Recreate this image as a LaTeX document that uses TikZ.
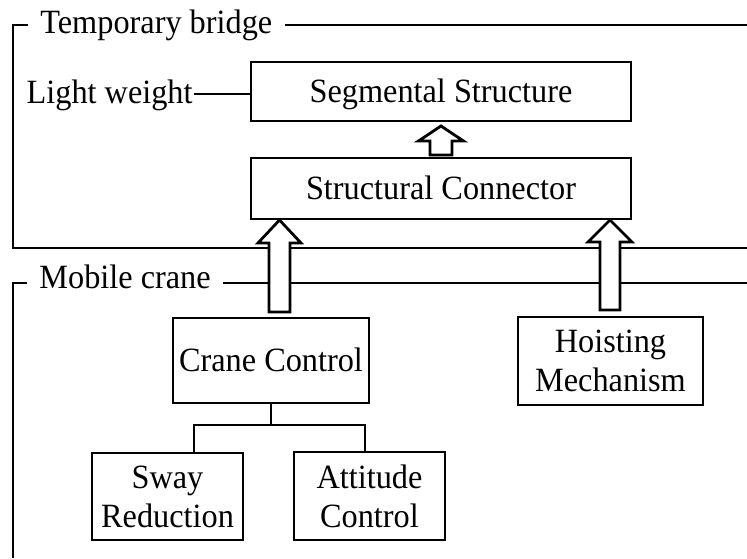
\documentclass[tikz,border=0pt]{standalone}
\usepackage{fontspec}
\setmainfont{Liberation Serif}[FakeStretch=0.95]
\begin{document}
\begin{tikzpicture}[x=1pt,y=-1pt,
  line width=2.8pt,
  every node/.style={font=\fontsize{34}{39}\selectfont},
  box/.style={draw, inner sep=0pt, align=center},
  one/.style={text height=22pt, text depth=0pt},
  lab/.style={inner xsep=11pt, inner ysep=0pt, one},
  harrow/.style={draw, fill=white, line join=miter}]
\useasboundingbox (0,0) rectangle (747,558);
\newcommand\hollowarrow[6]{%
  \draw[harrow] (#1-#5,#2) -- (#1-#5,#3) -- (#1-#6,#3) -- (#1,#4) -- (#1+#6,#3) -- (#1+#5,#3) -- (#1+#5,#2) -- cycle;}

% frames
\node[lab, anchor=west] (tb) at (28,22) {Temporary bridge};
\coordinate (tbR) at (747,25);
\coordinate (tbTL) at (13,25);
\coordinate (tbBL) at (13,248);
\coordinate (tbBR) at (747,248);
\draw (tbR) -- (tb.east |- tbR);
\draw (tb.west |- tbTL) -- (tbTL) -- (tbBL) -- (tbBR);

\node[lab, anchor=west] (mc) at (27,277) {Mobile crane};
\coordinate (mcR) at (747,283);
\coordinate (mcTL) at (13,283);
\coordinate (mcBL) at (13,558);
\draw (mcR) -- (mc.east |- mcR);
\draw (mc.west |- mcTL) -- (mcTL) -- (mcBL);

% boxes
\node[box, one, minimum width=380pt, minimum height=59pt] (seg) at (441,91.5) {Segmental Structure};
\node[box, one, minimum width=380pt, minimum height=61pt] (conn) at (441,188.5) {Structural Connector};
\node[one, inner sep=0pt, anchor=east] (lw) at (194,92.5) {Light weight};
\coordinate (lwR) at (194,94);
\draw (lwR) -- (seg.west |- lwR);

\node[box, one, minimum width=196pt, minimum height=85pt] (cc) at (271,360.5) {Crane Control};
\node[box, minimum width=185pt, minimum height=88pt] (hm) at (610.5,361) {Hoisting\\Mechanism};
\node[box, minimum width=151pt, minimum height=87pt] (sway) at (167.5,496.5) {Sway\\Reduction};
\node[box, minimum width=151pt, minimum height=88pt] (att) at (369.5,496) {Attitude\\Control};

% tree
\coordinate (jc) at (cc.south |- 0,425);
\coordinate (jl) at (194,425);
\coordinate (jr) at (365,425);
\draw (cc.south) -- (jc);
\draw (jl |- sway.north) -- (jl) -- (jr) -- (jr |- att.north);

% hollow arrows
\hollowarrow{441}{155}{141}{126}{11}{22.5}
\hollowarrow{279.5}{312}{243}{220}{10.5}{21.5}
\hollowarrow{610}{310}{242}{220}{10}{22}
\end{tikzpicture}
\end{document}
